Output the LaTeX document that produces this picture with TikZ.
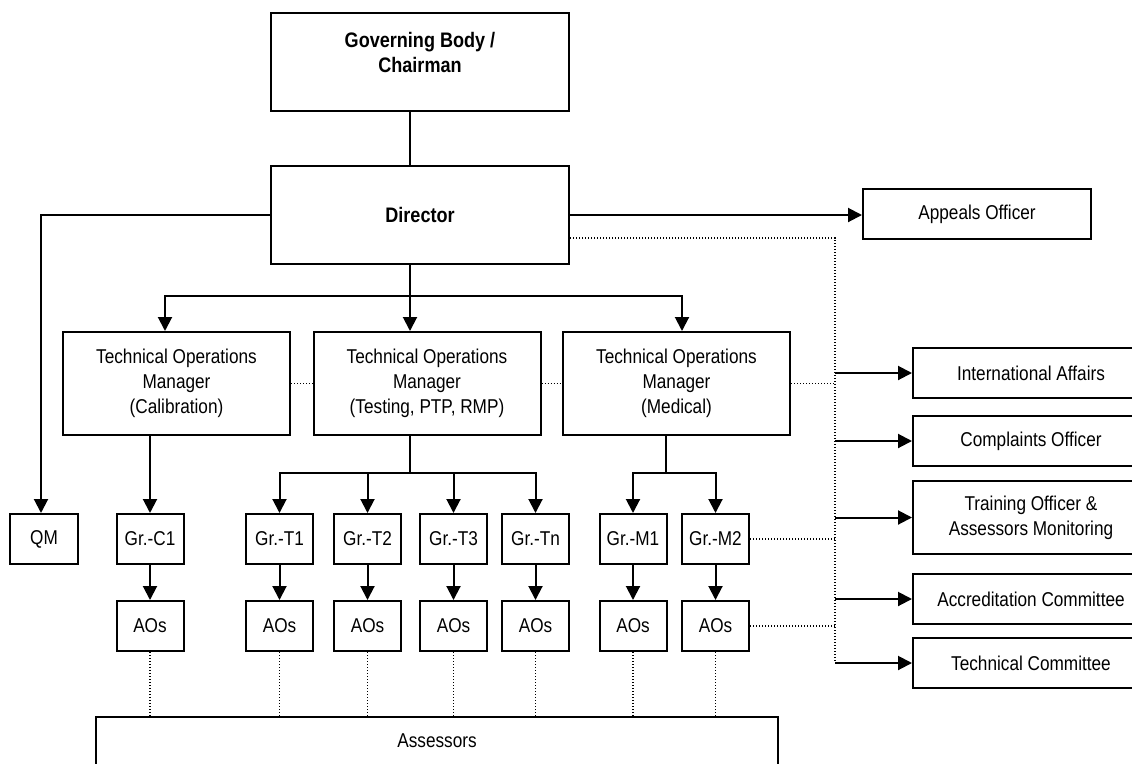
\documentclass[tikz,border=0pt]{standalone}
\usepackage{fontspec}
\setmainfont[FakeStretch=0.86]{Liberation Sans}
\usetikzlibrary{arrows.meta}

\begin{document}
\begin{tikzpicture}[x=1pt, y=-1pt,
  >={Triangle[length=14pt,width=14pt]},
  box/.style={draw, line width=2pt, inner sep=0pt, align=center,
    font=\fontsize{20}{25}\selectfont},
  head/.style={box, minimum width=298pt, minimum height=98pt,
    font=\bfseries\fontsize{21}{25}\selectfont},
  manager/.style={box, minimum width=227pt, minimum height=103pt},
  small/.style={box, minimum width=67pt, minimum height=50pt},
  side/.style={box, minimum width=236pt, minimum height=50pt},
  link/.style={line width=2pt},
  dots/.style={line width=1.4pt, dash pattern=on 1.4pt off 1.6pt}]

\useasboundingbox (0,0) rectangle (1132,763);
\fill[white] (0,0) rectangle (1132,763);
\clip (0,0) rectangle (1132,763);

% top of the chart
\node[head, text depth=20pt] (gov) at (420,62) {Governing Body /\\Chairman};
\node[head] (dir) at (420,215) {Director};
\node[box, minimum width=228pt, minimum height=50pt] (app) at (977,214) {Appeals Officer};

% managers
\node[manager] (tomc) at (176.5,383.5) {Technical Operations\\Manager\\(Calibration)};
\node[manager] (tomt) at (427,383.5) {Technical Operations\\Manager\\(Testing, PTP, RMP)};
\node[manager] (tomm) at (676.5,383.5) {Technical Operations\\Manager\\(Medical)};

% side boxes (cut by the right edge)
\node[side] (intl) at (1031,373) {International Affairs};
\node[side] (comp) at (1031,441) {Complaints Officer};
\node[side, minimum height=73pt] (train) at (1031,517.5) {Training Officer \&\\Assessors Monitoring};
\node[side] (accr) at (1031,599) {Accreditation Committee};
\node[side] (tcom) at (1031,663) {Technical Committee};

\node[box, minimum width=682pt, minimum height=48pt, anchor=north] (ass) at (437,716) {Assessors};
\node[small, minimum width=68pt] (qm) at (44,539) {QM};

\foreach \g/\x/\t in {c1/150/C1, t1/279.5/T1, t2/367.5/T2, t3/453.5/T3,
                      tn/535.5/Tn, m1/633/M1, m2/715.5/M2}
{
  \node[small] (gr\g) at (\x,539) {Gr.-\t};
  \node[small] (ao\g) at (\x,626) {AOs};
  \draw[link, ->] (gr\g) -- (ao\g);
  \draw[dots] (ao\g.south) -- (ao\g.south |- ass.north);
}

% director links
\draw[link] ([xshift=-10pt]gov.south) -- ([xshift=-10pt]dir.north);
\draw[link, ->] (dir.west) -| ([xshift=-3pt]qm.north);
\draw[link, ->] (dir.east) -- (dir.east -| app.west);

\coordinate (dtop) at (835,238);
\coordinate (dbot) at (835,662);
\draw[dots] ([yshift=-23pt]dir.east) -- (dtop) -- (dbot);
\foreach \n in {intl, comp, train, accr, tcom}
  \draw[link, ->] (\n.west -| dbot) -- (\n.west);

\coordinate (mbar) at (410,296);
\draw[link, ->] ([xshift=-10pt]dir.south) -- (tomt.north -| mbar);
\draw[link, ->] (mbar) -| ([xshift=-11.5pt]tomc.north);
\draw[link, ->] (mbar) -| ([xshift=5.5pt]tomm.north);

\draw[dots] (tomc) -- (tomt);
\draw[dots] (tomt) -- (tomm);
\draw[dots] (tomm.east) -- (tomm.east -| dbot);

% groups
\draw[link, ->] (tomc.south -| grc1.north) -- (grc1.north);
\coordinate (tbar) at (410,473);
\draw[link] ([xshift=-17pt]tomt.south) -- (tbar);
\foreach \g in {t1,t2,t3,tn}
  \draw[link, ->] (tbar) -| (gr\g.north);
\coordinate (mjoin) at (666,473);
\draw[link] ([xshift=-10.5pt]tomm.south) -- (mjoin);
\foreach \g in {m1,m2}
  \draw[link, ->] (mjoin) -| (gr\g.north);

\draw[dots] (grm2.east) -- (grm2.east -| dbot);
\draw[dots] (aom2.east) -- (aom2.east -| dbot);

\end{tikzpicture}
\end{document}
